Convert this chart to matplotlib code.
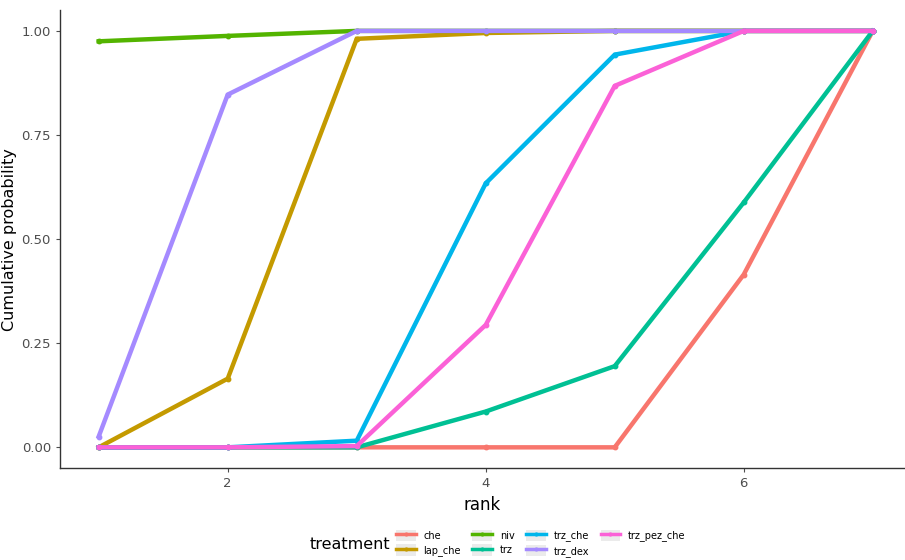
import matplotlib.pyplot as plt
from matplotlib.lines import Line2D
from matplotlib.patches import Patch
from matplotlib.legend_handler import HandlerTuple

# cumulative rank probabilities per treatment
rank = [1, 2, 3, 4, 5, 6, 7]
che = [0.0, 0.0, 0.0, 0.0, 0.0, 0.415, 1.0]
lap_che = [0.0, 0.165, 0.981, 0.995, 1.0, 1.0, 1.0]
niv = [0.975, 0.988, 1.0, 1.0, 1.0, 1.0, 1.0]
trz = [0.0, 0.0, 0.0, 0.086, 0.195, 0.588, 1.0]
trz_che = [0.0, 0.0, 0.016, 0.634, 0.943, 1.0, 1.0]
trz_dex = [0.026, 0.847, 1.0, 1.0, 1.0, 1.0, 1.0]
trz_pez_che = [0.0, 0.0, 0.003, 0.294, 0.868, 1.0, 1.0]

names = ['che', 'lap_che', 'niv', 'trz', 'trz_che', 'trz_dex', 'trz_pez_che']
series = [che, lap_che, niv, trz, trz_che, trz_dex, trz_pez_che]
colors = ['#F8766D', '#C49A00', '#53B400', '#00C094', '#00B6EB', '#A58AFF', '#FB61D7']

fig = plt.figure(figsize=(9.05, 5.6), dpi=100)
ax = fig.add_axes([0.0663, 0.164, 0.9337, 0.818])

for vals, c in zip(series, colors):
    ax.plot(rank, vals, color=c, lw=3.2, marker='o', ms=3.2, solid_joinstyle='miter')

ax.set_xlim(0.7, 7.25)
ax.set_ylim(-0.05, 1.05)
ax.set_xticks([2, 4, 6])
ax.set_yticks([0, 0.25, 0.5, 0.75, 1.0])
ax.set_yticklabels(['0.00', '0.25', '0.50', '0.75', '1.00'])
ax.tick_params(colors='#4D4D4D', labelcolor='#4D4D4D', labelsize=9.5, length=3)
for s in ['top', 'right']:
    ax.spines[s].set_visible(False)
for s in ['left', 'bottom']:
    ax.spines[s].set_color('#333333')
    ax.spines[s].set_linewidth(1.0)
ax.set_xlabel('rank', fontsize=12, labelpad=4)
ax.set_ylabel('Cumulative probability', fontsize=11.5, labelpad=3)

# legend keys: grey key background with the series line on top
handles = [(Patch(facecolor='#EBEBEB', edgecolor='none'),
            Line2D([], [], color=c, lw=2.5, marker='o', ms=2)) for c in colors]
fig.legend(handles, names, handler_map={tuple: HandlerTuple(ndivide=1)},
           loc='center left', bbox_to_anchor=(0.428, 0.03), ncol=4,
           frameon=False, fontsize=7, handlelength=2.0, handleheight=1.4,
           columnspacing=1.2, labelspacing=0.35, handletextpad=0.8)
fig.text(0.342, 0.027, 'treatment', fontsize=11.5, va='center')

fig.savefig('out.png', dpi=100)
